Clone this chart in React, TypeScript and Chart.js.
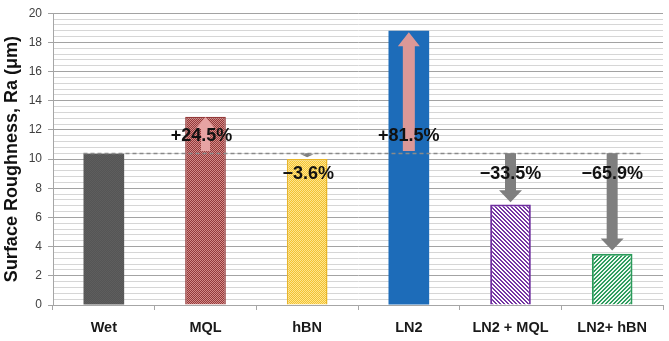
import React, { useEffect, useRef } from "react";
import { Chart, registerables } from "chart.js";

Chart.register(...registerables);

const categories = ["Wet", "MQL", "hBN", "LN2", "LN2 + MQL", "LN2+ hBN"];
const roughness = [10.36, 12.9, 10.0, 18.8, 6.89, 3.52];
const referenceLevel = 10.4;
const arrowStart = [null, 10.55, 10.4, 10.55, 10.4, 10.4];
const arrowTip = [null, 12.88, 10.12, 18.7, 7.05, 3.73];
const changeLabels = ["", "+24.5%", "−3.6%", "+81.5%", "−33.5%", "−65.9%"];
const labelLevel = [null, 11.6, 8.95, 11.6, 8.95, 8.95];
const yMin = 0;
const yMax = 20;
const yMajorStep = 2;
const yMinorStep = 0.4;

const arrowStyles = [
  null,
  { color: "#e7a3a3", shaft: 9, head: 20, headLen: 12 },
  { color: "#808080", shaft: 4, head: 13, headLen: 3 },
  { color: "#dc9897", shaft: 12, head: 22, headLen: 14 },
  { color: "#7f7f7f", shaft: 11, head: 23, headLen: 12 },
  { color: "#7f7f7f", shaft: 11, head: 23, headLen: 12 },
];

function makePattern(size: number, colorAt: (x: number, y: number) => string) {
  const c = document.createElement("canvas");
  c.width = size;
  c.height = size;
  const g = c.getContext("2d")!;
  for (let x = 0; x < size; x++) {
    for (let y = 0; y < size; y++) {
      g.fillStyle = colorAt(x, y);
      g.fillRect(x, y, 1, 1);
    }
  }
  return g.createPattern(c, "repeat")!;
}

const isMajor = (v: number) => Math.abs(v / yMajorStep - Math.round(v / yMajorStep)) < 1e-6;

export default function App() {
  const ref = useRef<HTMLCanvasElement>(null);
  useEffect(() => {
    document.body.style.margin = "0";
    const wet = makePattern(2, (x, y) => ((x + y) % 2 ? "#555555" : "#5e5e5e"));
    const mql = makePattern(2, (x, y) => ((x + y) % 2 ? "#933a3a" : "#d48a88"));
    const hbn = makePattern(2, (x, y) => ((x + y) % 2 ? "#f2c232" : "#ffe58e"));
    const ln2mql = makePattern(4, (x, y) => ((((x - y) % 4) + 4) % 4 < 2 ? "#7535a3" : "#ffffff"));
    const ln2hbn = makePattern(4, (x, y) => ((x + y) % 4 < 2 ? "#2e9d5e" : "#eef8f1"));

    const overlay = {
      id: "overlay",
      afterDatasetsDraw(chart: any) {
        const { ctx, scales } = chart;
        const xs = scales.x;
        const ys = scales.y;
        const meta = chart.getDatasetMeta(0);
        const barW = meta.data[0].width;
        const catW = xs.getPixelForValue(1) - xs.getPixelForValue(0);
        ctx.save();
        const yRef = Math.round(ys.getPixelForValue(referenceLevel)) + 0.5;
        ctx.strokeStyle = "#8a8a8a";
        ctx.lineWidth = 1.3;
        ctx.setLineDash([4, 3]);
        ctx.beginPath();
        ctx.moveTo(xs.getPixelForValue(0) - barW / 2, yRef);
        ctx.lineTo(xs.getPixelForValue(categories.length - 1) + catW * 0.3, yRef);
        ctx.stroke();
        ctx.setLineDash([]);
        categories.forEach((_, i) => {
          const st = arrowStyles[i];
          const a = arrowStart[i];
          const b = arrowTip[i];
          if (!st || a == null || b == null) return;
          const cx = xs.getPixelForValue(i);
          const y0 = ys.getPixelForValue(a);
          const y1 = ys.getPixelForValue(b);
          const dir = y1 < y0 ? -1 : 1;
          const yh = y1 - dir * st.headLen;
          ctx.fillStyle = st.color;
          ctx.beginPath();
          ctx.moveTo(cx - st.shaft / 2, y0);
          ctx.lineTo(cx - st.shaft / 2, yh);
          ctx.lineTo(cx - st.head / 2, yh);
          ctx.lineTo(cx, y1);
          ctx.lineTo(cx + st.head / 2, yh);
          ctx.lineTo(cx + st.shaft / 2, yh);
          ctx.lineTo(cx + st.shaft / 2, y0);
          ctx.closePath();
          ctx.fill();
        });
        ctx.fillStyle = "#111111";
        ctx.font = "bold 18px 'Liberation Sans', Arial, sans-serif";
        ctx.textAlign = "center";
        ctx.textBaseline = "middle";
        categories.forEach((_, i) => {
          const lv = labelLevel[i];
          if (lv == null || !changeLabels[i]) return;
          ctx.fillText(changeLabels[i], xs.getPixelForValue(i) - (i === 1 ? 4 : i === 2 ? -1 : 0), ys.getPixelForValue(lv));
        });
        ctx.restore();
      },
    };

    const chart = new Chart(ref.current!, {
      type: "bar",
      data: {
        labels: categories,
        datasets: [
          {
            data: roughness,
            backgroundColor: [wet, mql, hbn, "#1d6cb9", ln2mql, ln2hbn],
            borderColor: ["#595959", "#963a3a", "#e8b62a", "#1d6cb9", "#7030a0", "#2a9a5a"],
            borderWidth: [0, 1.5, 1.5, 0, 2, 2],
            barPercentage: 0.4,
            categoryPercentage: 1,
          },
        ],
      },
      options: {
        animation: false,
        responsive: false,
        maintainAspectRatio: false,
        layout: { padding: { left: 0, top: 10, right: 6, bottom: 0 } },
        plugins: { legend: { display: false }, tooltip: { enabled: false } },
        scales: {
          x: {
            grid: {
              offset: true,
              drawOnChartArea: false,
              tickLength: 5,
              color: "#a6a6a6",
            },
            border: { color: "#a6a6a6" },
            ticks: {
              color: "#1a1a1a",
              font: { family: "'Liberation Sans', Arial, sans-serif", size: 14.5, weight: "bold" },
              padding: 9,
              maxRotation: 0,
            },
            afterFit(scale: any) {
              scale.height = 36;
            },
          },
          y: {
            min: yMin,
            max: yMax,
            ticks: {
              stepSize: yMinorStep,
              autoSkip: false,
              padding: 6,
              color: "#404040",
              font: { family: "'Liberation Sans', Arial, sans-serif", size: 12 },
              callback: (v: any) => (isMajor(Number(v)) ? String(Math.round(Number(v))) : ""),
            },
            grid: {
              color: (c: any) => (isMajor(c.tick.value) ? "#a3a3a3" : "#d6d6d6"),
              tickColor: (c: any) => (isMajor(c.tick.value) ? "#a3a3a3" : "rgba(0,0,0,0)"),
              tickLength: 5,
              lineWidth: 1,
            },
            border: { color: "#a6a6a6" },
            title: {
              display: true,
              text: "Surface Roughness, Ra (μm)",
              color: "#111111",
              font: { family: "'Liberation Sans', Arial, sans-serif", size: 18, weight: "bold" },
              padding: { top: 1, bottom: 0 },
            },
            afterFit(scale: any) {
              scale.width = 53;
            },
          },
        },
      },
      plugins: [overlay],
    });
    return () => chart.destroy();
  }, []);
  return <canvas ref={ref} width={669} height={341} style={{ display: "block" }} />;
}
